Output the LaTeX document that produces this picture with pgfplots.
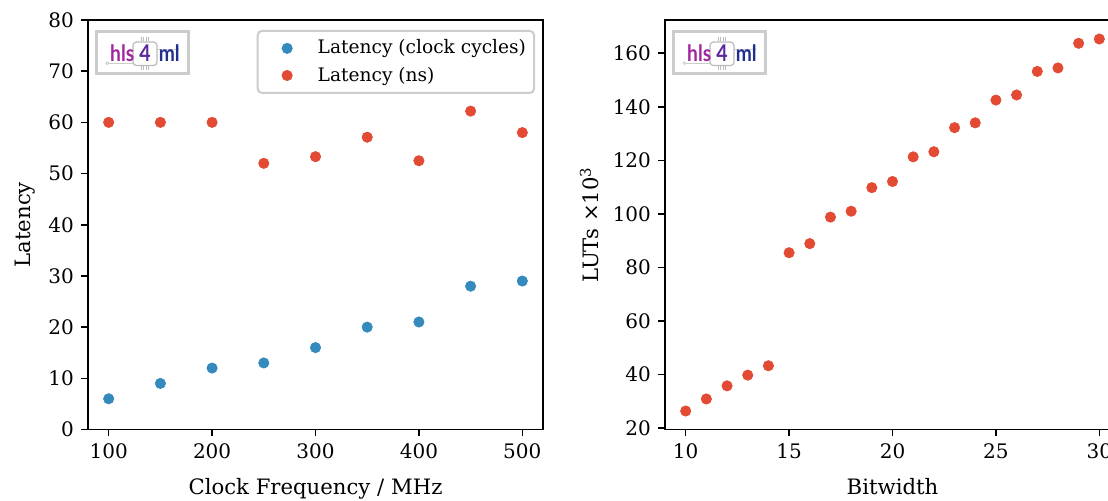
\documentclass[border=0pt]{standalone}
\usepackage{fontspec}
\setmainfont{DejaVu Serif}
\newfontfamily\logofont{Lato}[FakeStretch=0.85]
\usepackage{pgfplots}
\pgfplotsset{compat=1.18}

\definecolor{cblue}{HTML}{348ABD}
\definecolor{cred}{HTML}{E24A33}
\definecolor{lhls}{HTML}{A1259E}
\definecolor{lfour}{HTML}{5A2A9E}
\definecolor{lml}{HTML}{1F2F8F}
\definecolor{lgray}{HTML}{CCCCCC}
\definecolor{chipgray}{HTML}{BBBBBB}

% latency vs. clock frequency
\pgfplotstableread{
f cycles ns
100 6 60
150 9 60
200 12 60
250 13 52
300 16 53.3
350 20 57.1
400 21 52.5
450 28 62.2
500 29 58
}\latency

% LUTs (x1000) vs. bitwidth
\pgfplotstableread{
bw luts
10 26.4
11 30.9
12 35.8
13 39.8
14 43.3
15 85.5
16 88.9
17 98.8
18 101.0
19 109.8
20 112.1
21 121.3
22 123.2
23 132.2
24 134.0
25 142.5
26 144.4
27 153.2
28 154.5
29 163.7
30 165.3
}\luts

% hls4ml logo, drawn relative to an axis' north west corner
\newcommand\hlslogo[1]{%
  \begin{scope}[shift={(#1.north west)}, x=1pt, y=1pt]
    \draw[lgray, line width=1.5pt] (4.25,-5.75) rectangle (50.25,-26.75);
    \draw[lgray, line width=0.4pt] (10.4,-21.6) -- (22.5,-21.6);
    \draw[lgray, line width=0.4pt] (9.7,-21.6) circle (0.7);
    \draw[lgray, line width=0.4pt] (34.5,-14.5) -- (44,-14.5);
    \draw[lgray, line width=0.4pt] (44.7,-14.5) circle (0.7);
    \draw[chipgray, line width=0.6pt, rounded corners=1.8pt] (22.5,-11) rectangle (34.5,-22.8);
    \foreach \p in {-1.8,-0.6,0.6,1.8} {
      \draw[chipgray, line width=0.35pt] (28.5+\p,-8.6) -- (28.5+\p,-10.6);
      \draw[chipgray, line width=0.35pt] (28.5+\p,-23.2) -- (28.5+\p,-25.2);
    }
    \node[anchor=base west, inner sep=0, text=lhls, font=\logofont\bfseries\fontsize{11.3}{11.3}\selectfont] at (10.9,-20.6) {hls};
    \node[anchor=base, inner sep=0, text=lfour, font=\logofont\bfseries\fontsize{11.5}{11.5}\selectfont] at (28.5,-20.6) {4};
    \node[anchor=base west, inner sep=0, text=lml, font=\logofont\bfseries\fontsize{11.3}{11.3}\selectfont] at (35.2,-20.6) {ml};
  \end{scope}}

\pgfplotsset{
  panel/.style={
    scale only axis,
    width=227.5pt, height=204.75pt,
    anchor=south west,
    tick pos=left,
    tick align=outside,
    major tick length=3.5pt,
    every tick/.style={black, line width=0.8pt},
    axis line style={line width=0.8pt},
    /pgf/number format/assume math mode=true,
    tick label style={font=\fontsize{10}{12}\selectfont},
    label style={font=\fontsize{10.6}{12.7}\selectfont},
    xlabel style={yshift=-3pt},
    clip=false,
  },
  dots/.style={only marks, mark=*, mark size=2.6pt, mark options={fill=#1, draw=#1, line width=0.3pt}},
}

\begin{document}
\begin{tikzpicture}
\begin{axis}[panel, name=ax1, at={(44pt,35.75pt)},
  xmin=80, xmax=520, ymin=0, ymax=80,
  xtick={100,200,...,500}, ytick={0,10,...,80},
  xlabel={Clock Frequency / MHz}, ylabel={Latency},
  legend cell align=left,
  legend image code/.code={%
    \path (-3pt,-3pt) (22pt,3pt);
    \draw[#1] plot coordinates {(9.2pt,0pt)};},
  legend style={at={(1,1)}, anchor=north east, xshift=-4pt, yshift=-5pt,
    draw=black!20, line width=1pt, rounded corners=2pt,
    font=\fontsize{9.3}{11}\selectfont, inner xsep=2pt, inner ysep=2.4pt,
    row sep=1pt},
]
\addplot[dots=cblue] table[x=f, y=cycles]{\latency};
\addlegendentry{Latency (clock cycles)}
\addplot[dots=cred] table[x=f, y=ns]{\latency};
\addlegendentry{Latency (ns)}
\end{axis}
\hlslogo{ax1}

\begin{axis}[panel, name=ax2, at={(332.5pt,35.75pt)},
  xmin=9, xmax=31, ymin=19.5, ymax=172.4,
  xtick={10,15,...,30}, ytick={20,40,...,160},
  xlabel={Bitwidth}, ylabel={LUTs ×10\textsuperscript{3}},
]
\addplot[dots=cred] table[x=bw, y=luts]{\luts};
\end{axis}
\hlslogo{ax2}

\pgfresetboundingbox
\path[use as bounding box] (0,0) rectangle (554pt,250.5pt);
\end{tikzpicture}
\end{document}
